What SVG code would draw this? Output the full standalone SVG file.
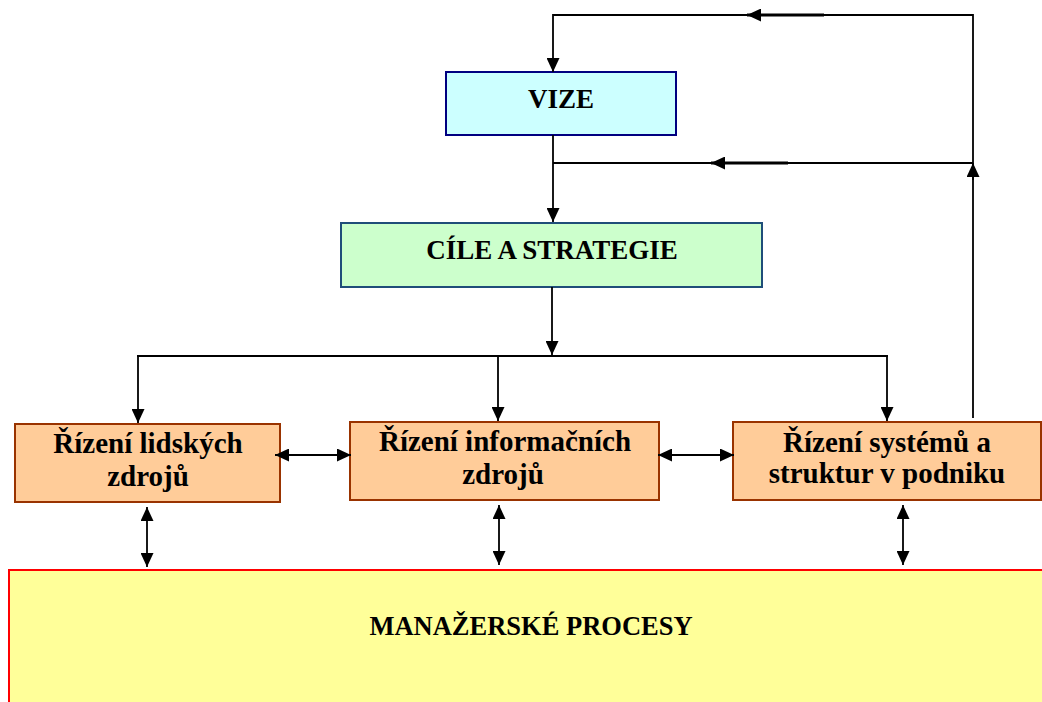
<svg xmlns="http://www.w3.org/2000/svg" width="1042" height="702" viewBox="0 0 1042 702">
<style>
text{font-family:"Liberation Serif","Times New Roman",serif;font-weight:bold;fill:#000;text-anchor:middle;font-size:29px}
text.t27{font-size:27px}
text.t26{font-size:26.5px}
.ln{stroke:#000;stroke-width:1.8;fill:none}
.thk{stroke:#000;stroke-width:3;fill:none}
.or{fill:#FFCC99;stroke:#993300;stroke-width:2}
</style>
<defs>
<marker id="ah" viewBox="0 0 14 13" refX="14" refY="6.5" markerWidth="14" markerHeight="13" markerUnits="userSpaceOnUse" orient="auto-start-reverse">
<path d="M0,0 L14,6.5 L0,13 z" fill="#000"/>
</marker>
</defs>
<rect width="1042" height="702" fill="#fff"/>
<g id="vize">
<rect x="446" y="72" width="230" height="63" fill="#CCFFFF" stroke="#000080" stroke-width="2"/>
<text class="t27" x="561" y="108">VIZE</text>
</g>
<g id="cile">
<rect x="341" y="223" width="421" height="64" fill="#CCFFCC" stroke="#1F4E79" stroke-width="2"/>
<text class="t27" x="552" y="259">CÍLE A STRATEGIE</text>
</g>
<g id="lidske">
<rect class="or" x="15" y="424" width="265" height="78"/>
<text x="148" y="453">Řízení lidských</text>
<text x="148" y="486">zdrojů</text>
</g>
<g id="informacni">
<rect class="or" x="350" y="422" width="309" height="78"/>
<text x="505" y="451">Řízení informačních</text>
<text x="503" y="484">zdrojů</text>
</g>
<g id="systemy">
<rect class="or" x="733" y="422" width="308" height="78"/>
<text x="887" y="452">Řízení systémů a</text>
<text x="887" y="483">struktur v podniku</text>
</g>
<g id="procesy">
<rect x="9" y="570" width="1040" height="150" fill="#FFFF99" stroke="#FF0000" stroke-width="2"/>
<text class="t26" x="531" y="635">MANAŽERSKÉ PROCESY</text>
</g>
<g id="connectors">
<polyline class="ln" points="973,418 973,15 553,15 553,72" marker-end="url(#ah)"/>
<line class="thk" x1="824" y1="15" x2="747" y2="15" marker-end="url(#ah)"/>
<line class="ln" x1="973" y1="180" x2="973" y2="163" marker-end="url(#ah)"/>
<line class="ln" x1="973" y1="163" x2="553" y2="163"/>
<line class="thk" x1="788" y1="163" x2="711" y2="163" marker-end="url(#ah)"/>
<line class="ln" x1="553" y1="135" x2="553" y2="222" marker-end="url(#ah)"/>
<line class="ln" x1="552" y1="287" x2="552" y2="355" marker-end="url(#ah)"/>
<line class="ln" x1="137" y1="356" x2="888" y2="356"/>
<line class="ln" x1="138" y1="356" x2="138" y2="423" marker-end="url(#ah)"/>
<line class="ln" x1="498" y1="356" x2="498" y2="421" marker-end="url(#ah)"/>
<line class="ln" x1="887" y1="356" x2="887" y2="421" marker-end="url(#ah)"/>
<line class="ln" x1="275" y1="455" x2="351" y2="455" marker-start="url(#ah)" marker-end="url(#ah)"/>
<line class="ln" x1="658" y1="455" x2="734" y2="455" marker-start="url(#ah)" marker-end="url(#ah)"/>
<line class="ln" x1="147" y1="507" x2="147" y2="567" marker-start="url(#ah)" marker-end="url(#ah)"/>
<line class="ln" x1="499" y1="505" x2="499" y2="565" marker-start="url(#ah)" marker-end="url(#ah)"/>
<line class="ln" x1="903" y1="505" x2="903" y2="565" marker-start="url(#ah)" marker-end="url(#ah)"/>
</g>
</svg>
